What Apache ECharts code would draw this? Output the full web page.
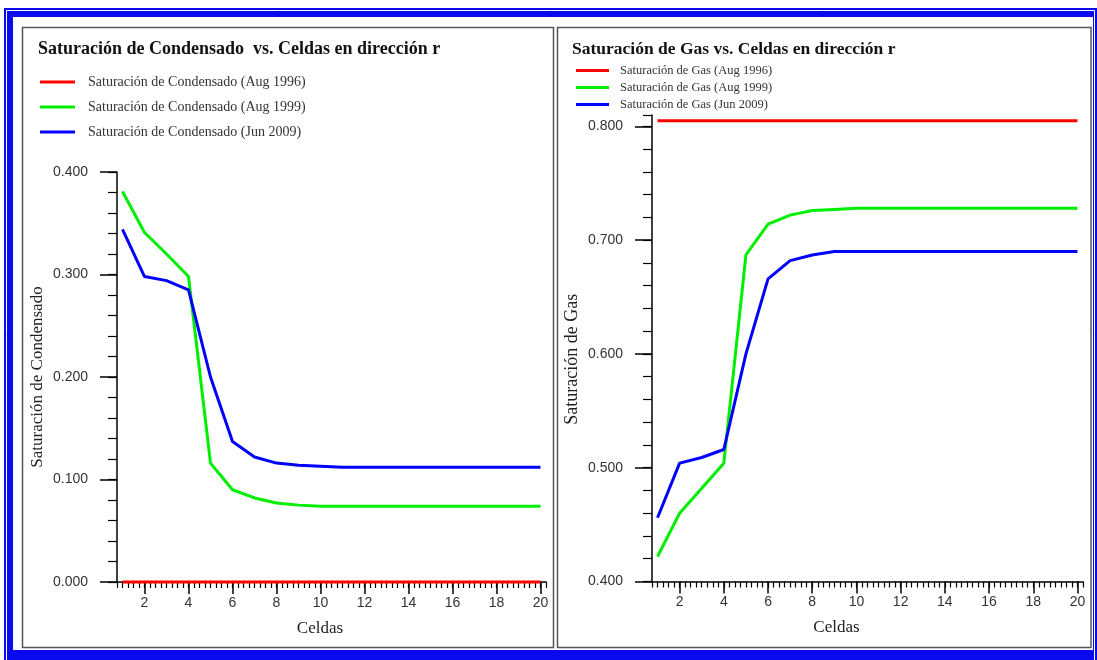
<!DOCTYPE html>
<html>
<head>
<meta charset="utf-8">
<title>Saturación vs. Celdas</title>
<script src="https://cdn.jsdelivr.net/npm/echarts@6/dist/echarts.min.js"></script>
<style>
  html, body { margin: 0; padding: 0; background: #fff; }
  #chart { width: 1097px; height: 660px; }
</style>
</head>
<body>
<div id="chart"></div>
<script>
// Cells in r direction
const celdas = [1, 2, 3, 4, 5, 6, 7, 8, 9, 10, 11, 12, 13, 14, 15, 16, 17, 18, 19, 20];

// Condensate saturation
const condAug1996 = [0, 0, 0, 0, 0, 0, 0, 0, 0, 0, 0, 0, 0, 0, 0, 0, 0, 0, 0, 0];
const condAug1999 = [0.381, 0.341, 0.320, 0.298, 0.116, 0.090, 0.082, 0.077, 0.075, 0.074,
                     0.074, 0.074, 0.074, 0.074, 0.074, 0.074, 0.074, 0.074, 0.074, 0.074];
const condJun2009 = [0.344, 0.298, 0.294, 0.285, 0.200, 0.137, 0.122, 0.116, 0.114, 0.113,
                     0.112, 0.112, 0.112, 0.112, 0.112, 0.112, 0.112, 0.112, 0.112, 0.112];

// Gas saturation
const gasAug1996 = [0.805, 0.805, 0.805, 0.805, 0.805, 0.805, 0.805, 0.805, 0.805, 0.805,
                    0.805, 0.805, 0.805, 0.805, 0.805, 0.805, 0.805, 0.805, 0.805, 0.805];
const gasAug1999 = [0.422, 0.460, 0.482, 0.504, 0.687, 0.714, 0.722, 0.726, 0.727, 0.728,
                    0.728, 0.728, 0.728, 0.728, 0.728, 0.728, 0.728, 0.728, 0.728, 0.728];
const gasJun2009 = [0.456, 0.504, 0.509, 0.516, 0.600, 0.666, 0.682, 0.687, 0.690, 0.690,
                    0.690, 0.690, 0.690, 0.690, 0.690, 0.690, 0.690, 0.690, 0.690, 0.690];

// Tick labels
const xTickLabels = [2, 4, 6, 8, 10, 12, 14, 16, 18, 20];
const condTickLabels = [0, 0.1, 0.2, 0.3, 0.4];
const gasTickLabels = [0.4, 0.5, 0.6, 0.7, 0.8];

const RED = '#ff0000';
const GREEN = '#00ee00';
const BLUE = '#0000ff';
const SERIF = '"Liberation Serif", "DejaVu Serif", serif';
const SANS = '"Liberation Sans", Arial, sans-serif';

function pairs(values) {
    return celdas.map((c, i) => [c, values[i]]);
}

function xAxes(gridIndex, namePad) {
    return [
        {
            gridIndex: gridIndex, type: 'value', position: 'bottom',
            min: 0.75, max: 20.25, interval: 0.25,
            axisLine: { lineStyle: { color: '#000', width: 1.5 } },
            axisTick: { length: 6, lineStyle: { color: '#000', width: 1.2 } },
            axisLabel: { show: false },
            splitLine: { show: false }
        },
        {
            gridIndex: gridIndex, type: 'value', position: 'bottom',
            min: 0.75, max: 20.25,
            axisLine: { show: false },
            axisTick: { length: 12, customValues: xTickLabels, lineStyle: { color: '#000', width: 1.5 } },
            axisLabel: { customValues: xTickLabels, margin: 14, color: '#333', fontFamily: SANS, fontSize: 14 },
            splitLine: { show: false },
            name: 'Celdas', nameLocation: 'middle', nameGap: 38,
            nameTextStyle: { fontFamily: SERIF, fontSize: 17, color: '#222', padding: [0, namePad, 0, 0] }
        }
    ];
}

function yAxes(gridIndex, min, max, ticks, name, namePad, nameSize) {
    return [
        {
            gridIndex: gridIndex, type: 'value', position: 'left',
            min: min, max: max, interval: 0.02,
            axisLine: { show: true, lineStyle: { color: '#000', width: 1.5 } },
            axisTick: { show: true, length: 9, lineStyle: { color: '#000', width: 1.2 } },
            axisLabel: { show: false },
            splitLine: { show: false }
        },
        {
            gridIndex: gridIndex, type: 'value', position: 'left',
            min: min, max: max,
            axisLine: { show: false },
            axisTick: { show: true, length: 17, customValues: ticks, lineStyle: { color: '#000', width: 1.5 } },
            axisLabel: {
                customValues: ticks, margin: 29, color: '#333', fontFamily: SANS, fontSize: 14,
                formatter: v => v.toFixed(3)
            },
            splitLine: { show: false },
            name: name, nameLocation: 'middle', nameGap: 71,
            nameTextStyle: { fontFamily: SERIF, fontSize: nameSize, color: '#222', padding: [0, namePad, 0, 0] }
        }
    ];
}

function line(name, values, color, xi, yi) {
    return {
        name: name, type: 'line', data: pairs(values),
        xAxisIndex: xi, yAxisIndex: yi,
        symbol: 'none', clip: false,
        lineStyle: { color: color, width: 3 },
        itemStyle: { color: color }
    };
}

const chart = echarts.init(document.getElementById('chart'));

const option = {
    animation: false,
    backgroundColor: '#fff',
    graphic: [
        { type: 'rect', z: -20, shape: { x: 4, y: 8, width: 1093, height: 652 }, style: { fill: '#0a0af0' } },
        { type: 'rect', z: -19, shape: { x: 6.5, y: 10.5, width: 1088, height: 660 }, style: { fill: 'none', stroke: '#fff', lineWidth: 1 } },
        { type: 'rect', z: -18, shape: { x: 13, y: 17, width: 1080, height: 633 }, style: { fill: '#fff' } },
        { type: 'rect', z: -17, shape: { x: 22.5, y: 27.5, width: 531, height: 620 }, style: { fill: '#fff', stroke: '#555', lineWidth: 1.5 } },
        { type: 'rect', z: -17, shape: { x: 557.5, y: 27.5, width: 533.5, height: 620 }, style: { fill: '#fff', stroke: '#555', lineWidth: 1.5 } }
    ],
    title: [
        {
            text: 'Saturación de Condensado  vs. Celdas en dirección r',
            left: 33, top: 35,
            textStyle: { fontFamily: SERIF, fontWeight: 'bold', fontSize: 18, color: '#111' }
        },
        {
            text: 'Saturación de Gas vs. Celdas en dirección r',
            left: 567, top: 35,
            textStyle: { fontFamily: SERIF, fontWeight: 'bold', fontSize: 17.5, color: '#111' }
        }
    ],
    legend: [
        {
            orient: 'vertical', left: 35, top: 70, itemGap: 11,
            itemWidth: 35, itemHeight: 3, icon: 'rect',
            textStyle: { fontFamily: SERIF, fontSize: 14, color: '#333', padding: [0, 0, 0, 8] },
            data: ['Saturación de Condensado (Aug 1996)', 'Saturación de Condensado (Aug 1999)', 'Saturación de Condensado (Jun 2009)']
        },
        {
            orient: 'vertical', left: 571, top: 59, itemGap: 4,
            itemWidth: 33, itemHeight: 3, icon: 'rect',
            textStyle: { fontFamily: SERIF, fontSize: 12.5, color: '#333', padding: [0, 0, 0, 6] },
            data: ['Saturación de Gas (Aug 1996)', 'Saturación de Gas (Aug 1999)', 'Saturación de Gas (Jun 2009)']
        }
    ],
    grid: [
        { left: 117, top: 172, width: 429, height: 410 },
        { left: 652, top: 115, width: 431, height: 466.5 }
    ],
    xAxis: xAxes(0, 23).concat(xAxes(1, 62)),
    yAxis: yAxes(0, 0, 0.4, condTickLabels, 'Saturación de Condensado', 0, 17)
        .concat(yAxes(1, 0.4, 0.81, gasTickLabels, 'Saturación de Gas', 22, 18)),
    series: [
        line('Saturación de Condensado (Aug 1996)', condAug1996, RED, 0, 0),
        line('Saturación de Condensado (Aug 1999)', condAug1999, GREEN, 0, 0),
        line('Saturación de Condensado (Jun 2009)', condJun2009, BLUE, 0, 0),
        line('Saturación de Gas (Aug 1996)', gasAug1996, RED, 2, 2),
        line('Saturación de Gas (Aug 1999)', gasAug1999, GREEN, 2, 2),
        line('Saturación de Gas (Jun 2009)', gasJun2009, BLUE, 2, 2)
    ]
};

chart.setOption(option);
</script>
</body>
</html>
